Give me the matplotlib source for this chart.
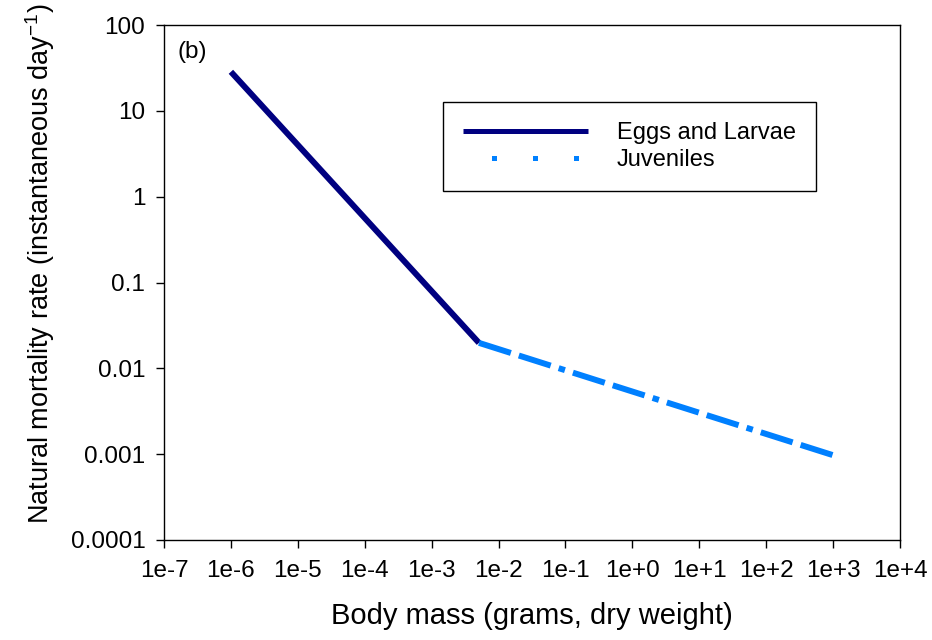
import matplotlib
matplotlib.use("Agg")
import matplotlib.pyplot as plt
from matplotlib.lines import Line2D

plt.rcParams['font.family'] = ['Liberation Sans', 'DejaVu Sans']
plt.rcParams['mathtext.fontset'] = 'custom'
plt.rcParams['mathtext.rm'] = 'Liberation Sans'

# data (body mass in g, mortality per day)
larvae_mass = [1e-6, 5.1e-3]
larvae_mort = [28.5, 0.0198]
juv_mass = [5.1e-3, 1.1e3]
juv_mort = [0.0198, 0.00095]

xticks = [10.0**k for k in range(-7, 5)]
xticklabels = ['1e-7', '1e-6', '1e-5', '1e-4', '1e-3', '1e-2', '1e-1',
               '1e+0', '1e+1', '1e+2', '1e+3', '1e+4']
yticks = [1e-4, 1e-3, 1e-2, 1e-1, 1, 10, 100]
yticklabels = ['0.0001', '0.001', '0.01', '0.1', '1', '10', '100']

navy = '#000080'
blue = '#0080ff'

fig = plt.figure(figsize=(9.32, 6.4), dpi=100)
ax = fig.add_axes([164/932, 100/640, 736/932, 515/640])

ax.plot(larvae_mass, larvae_mort, color=navy, lw=4.3, solid_capstyle='butt')
ax.plot(juv_mass, juv_mort, color=blue, lw=4.3,
        dashes=(5.6, 1.4, 5.6, 1.4, 1.1, 1.4), dash_capstyle='butt')

ax.set_xscale('log')
ax.set_yscale('log')
ax.set_xlim(1e-7, 1e4)
ax.set_ylim(1e-4, 100)
ax.set_xticks(xticks)
ax.set_xticklabels(xticklabels)
ax.set_yticks(yticks)
ax.set_yticklabels(yticklabels)
ax.minorticks_off()
ax.tick_params(axis='both', labelsize=17.5, length=5.5, width=1, direction='out')
ax.tick_params(axis='x', pad=9)
ax.tick_params(axis='y', pad=8)
for s in ax.spines.values():
    s.set_linewidth(1)

ax.set_xlabel('Body mass (grams, dry weight)', fontsize=21, labelpad=14)
ax.set_ylabel('Natural mortality rate (instantaneous day$^{-1}$)', fontsize=19.5)
ax.yaxis.set_label_coords((57 - 164) / 736, (540 - 264) / 515)

ax.text(0.019, 0.948, '(b)', transform=ax.transAxes, fontsize=17.5, va='center', ha='left')

handles = [Line2D([], [], color=navy, lw=3.6, solid_capstyle='butt'),
           Line2D([], [], color=blue, lw=3.6, linestyle=(2.5, (1.0, 7.2)),
                  dash_capstyle='butt')]
leg = ax.legend(handles, ['Eggs and Larvae', 'Juveniles'], loc='upper left',
                bbox_to_anchor=((443-164)/736, (540-102)/515), fontsize=17,
                frameon=True, fancybox=False, edgecolor='black', framealpha=1,
                handlelength=5.3, handletextpad=1.2, labelspacing=0.2,
                borderpad=0.85, borderaxespad=0)
leg.get_frame().set_linewidth(1)

fig.savefig('out.png', dpi=100)
